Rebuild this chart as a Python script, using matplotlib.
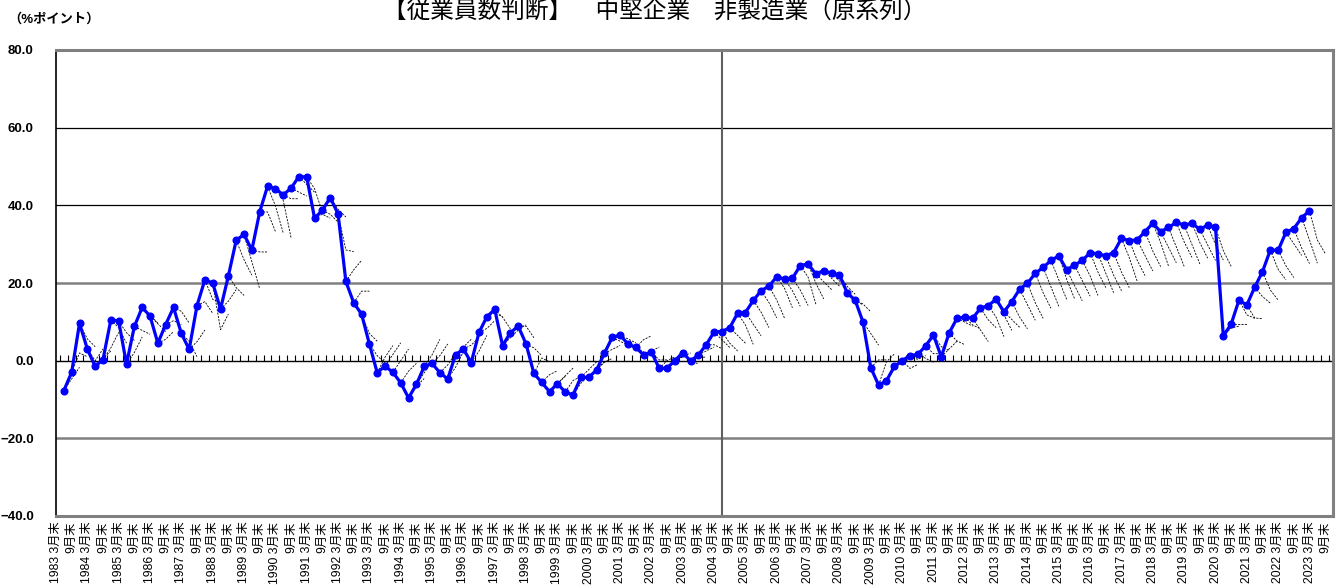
import matplotlib
matplotlib.use("Agg")
import matplotlib.pyplot as plt
import numpy as np

plt.rcParams['font.family'] = ['Liberation Sans', 'Noto Sans CJK JP', 'DejaVu Sans']

# quarterly actual values (blue line)
actual = [
    -7.7, -3.0, 9.6, 3.0, -1.5, 0.3, 10.5, 10.2, -0.9, 8.8,
    13.7, 11.5, 4.5, 9.3, 13.7, 7.0, 2.9, 14.2, 20.8, 20.0,
    13.3, 21.8, 31.0, 32.5, 28.5, 38.3, 44.9, 44.3, 42.7, 44.4,
    47.4, 47.3, 36.7, 38.7, 42.0, 37.8, 20.4, 14.9, 12.0, 4.3,
    -3.1, -1.4, -3.0, -5.7, -9.6, -6.1, -1.5, -0.7, -3.1, -4.7,
    1.5, 3.0, -0.5, 7.3, 11.3, 13.2, 3.9, 7.2, 8.9, 4.3,
    -3.3, -5.6, -8.0, -5.9, -8.1, -8.8, -4.3, -4.3, -2.4, 1.9,
    6.0, 6.6, 4.3, 3.4, 1.5, 2.2, -2.0, -1.9, 0.0, 2.1,
    -0.1, 1.5, 4.1, 7.4, 7.5, 8.5, 12.2, 12.4, 15.5, 18.0,
    19.2, 21.6, 21.0, 21.2, 24.5, 24.9, 22.3, 23.2, 22.5, 22.1,
    17.4, 15.6, 10.0, -1.8, -6.3, -5.2, -1.5, 0.0, 1.3, 1.6,
    3.8, 6.6, 1.0, 7.1, 10.9, 11.2, 10.9, 13.5, 14.2, 15.8,
    12.6, 15.2, 18.4, 19.9, 22.5, 24.0, 25.8, 27.0, 23.4, 24.6,
    25.8, 27.8, 27.5, 27.0, 27.8, 31.5, 30.9, 31.1, 33.2, 35.4,
    33.2, 34.3, 35.6, 34.9, 35.4, 33.8, 34.9, 34.3, 6.4, 9.4,
    15.6, 14.3, 18.9, 22.9, 28.5, 28.4, 33.1, 34.0, 36.8, 38.6,
]

# change of the forecasts (dashed lines) from each actual value, 1 and 2 quarters ahead
chg1 = [
    3, 5, -4, -3, 2, 3, -2, -3, 3, -1,
    -2, -2, 1, 1, -1, -2, 2, 1, -5, -12,
    2, -3, -5, -7, -0.5, 0, -5, -3, -1, -1,
    -2, -3, 1, -1, -3, -9.3, 3, 3, -5, -3,
    4, 3, 3, 3, 3, 3, 3, 2, 2, 3,
    2, 1, 3, 1, 1, -2, 2, 1, 0, -1,
    4, 2, 2, 2, 3, 3, 2, 2, 2, 1,
    -1, -1, -1, 2, 1, -2, 2, 2, 1, -2,
    1, 1, 0, -2, -3, -2, -3, -3, -3, -3,
    -3.6, -3, -3, -3, -3, -5, -2, -2, -2, -3,
    -2, -1, -3, 2, 6, 3, 1, -2, -1, -1,
    -2, -3, 2, -2, -1, -2, -3, -3, -3, -4,
    -2, -4, -4, -5, -5, -5, -5, -6, -4, -4,
    -4, -5, -5, -5, -5, -5, -5, -4, -5, -5,
    -4, -5, -5, -5, -5, -4, -5, -6, 2, 0,
    -3.8, -3.3, -2.4, -4.7, -5, -4, -3, -5, -5.7, -7.5,
]
chg2 = [
    6, 4, -6, 0, 4, 7, -6, -5, 7, -2,
    -4, -4, 3, 0, -4, -6, 5, -2, -6, -8,
    5, -5, -9, -14, -0.5, -5, -12, -12.6, -1, -2,
    -4, -9, 0, -3, -5, -9.7, 5.4, 3, -7, -5,
    7, 6, 6, 5, 5, 6, 7, 5, 5, 7,
    4, 3, 7, 3, 0, -5, 4, 2, -3, -3,
    3, 3, 4, 4, 4, 5, 4, 4, 3, 2,
    -2, -2, -2, 3, 2, -2, 3, 3, 2, -3,
    1, 2, -1, -4, -5, -4, -8, -6, -7, -7,
    -8.3, -8, -7, -7, -10, -9, -4, -4, -3, -5,
    -3, -3, -6, 2, 8, 5, 2, -1, 0, -2,
    -2, -4, 4, -3, -2, -3, -6, -5, -8, -8,
    -4, -7, -8, -9, -9, -10, -10, -11, -8, -8,
    -9, -9, -10, -9, -9, -11, -9, -8, -9, -11,
    -8, -10, -9, -10, -9, -8, -9, -10, 2.5, 0,
    -4.7, -3.5, -4.1, -7.3, -7.7, -7, -6, -9, -11.7, -11,
]

years = list(range(1983, 2024))
tick_labels = []
for y in years:
    tick_labels.append(f"{y} 3月末")
    tick_labels.append("9月末")

x = np.arange(len(actual))
a = np.array(actual)
f1 = a + np.array(chg1)
f2 = a + np.array(chg2)

fig = plt.figure(figsize=(13.37, 5.87), dpi=100)
ax = fig.add_axes([56 / 1337, 1 - 516 / 587, (1333 - 56) / 1337, (516 - 50) / 587])

# forecast paths
for i in range(len(actual)):
    ax.plot([x[i], x[i] + 1, x[i] + 2], [a[i], f1[i], f2[i]],
            color='black', lw=0.6, ls=(0, (2.5, 1.5)), zorder=2)

ax.plot(x, a, color='#0000ff', lw=2.3, marker='o', ms=4.8, zorder=4)

# grid lines
for yv in [60, 40]:
    ax.axhline(yv, color='black', lw=0.9, zorder=1)
for yv in [20, -20]:
    ax.axhline(yv, color='#808080', lw=1.8, zorder=1)
ax.axhline(0, color='black', lw=1.0, zorder=1)
ax.axvline(84, color='#606060', lw=1.5, zorder=1)

ax.set_xlim(-1, 162)
ax.set_ylim(-40, 80)
ax.set_yticks([80, 60, 40, 20, 0, -20, -40])
ax.set_yticklabels([f"{v:.1f}".replace('-', '−') for v in [80, 60, 40, 20, 0, -20, -40]],
                   fontsize=9.5, fontweight='bold')
ax.tick_params(axis='y', length=0, pad=16)

ax.set_xticks(np.arange(-1, 162, 2))
ax.set_xticklabels(tick_labels, rotation=90, fontsize=8.8, va='top', ha='center')
ax.tick_params(axis='x', length=0, pad=4)

# small quarterly ticks on the zero line
zero_ax = ax.secondary_xaxis(1 / 3)
zero_ax.set_xticks(np.arange(-0.5, 162, 1))
zero_ax.tick_params(axis='x', direction='in', length=4, width=0.8, labelbottom=False, labeltop=False)
zero_ax.spines['bottom'].set_visible(False)
zero_ax.spines['top'].set_visible(False)
zero_ax.set_xticklabels([])

for side in ['top', 'right', 'bottom']:
    ax.spines[side].set_color('#808080')
    ax.spines[side].set_linewidth(2.2)
ax.spines['left'].set_color('black')
ax.spines['left'].set_linewidth(1.2)

fig.text(0.49, 1.0, "【従業員数判断】　中堅企業　非製造業（原系列）", ha='center', va='top',
         fontsize=17, family=['Noto Sans CJK JP'])
fig.text(8 / 1337, 1 - 19 / 587, "（%ポイント）", ha='left', va='center', fontsize=9.5,
         fontweight='bold')

fig.savefig("out.png", dpi=100)
